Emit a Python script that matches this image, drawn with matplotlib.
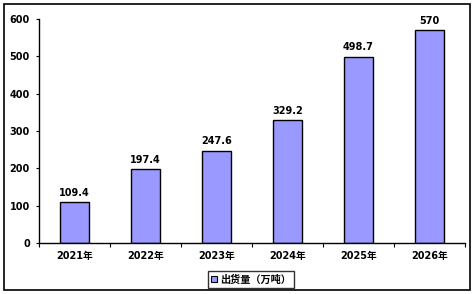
import matplotlib
matplotlib.use("Agg")
import matplotlib.pyplot as plt
from matplotlib.patches import Rectangle, Patch
import numpy as np

plt.rcParams['font.family'] = ['DejaVu Sans', 'Noto Sans CJK SC']

years = ["2021年", "2022年", "2023年", "2024年", "2025年", "2026年"]
values = [109.4, 197.4, 247.6, 329.2, 498.7, 570]
value_labels = ["109.4", "197.4", "247.6", "329.2", "498.7", "570"]
series_name = "出货量（万吨）"

fig = plt.figure(figsize=(4.75, 2.94), dpi=100)
fig.patches.append(Rectangle((4/475, 1-290/294), 466/475, 286/294, transform=fig.transFigure,
                             fill=False, edgecolor='black', linewidth=1.2))
ax = fig.add_axes([39/475, 1-243/294, 426/475, 224/294])

x = np.arange(len(years))
ax.bar(x, values, width=0.41, color='#9999FF', edgecolor='black', linewidth=1.0, label=series_name)
for xi, v, lab in zip(x, values, value_labels):
    ax.text(xi, v + 12, lab, ha='center', va='bottom', fontsize=7, fontweight='bold')

ax.set_xlim(-0.5, len(years) - 0.5)
ax.set_ylim(0, 600)
ax.set_yticks(range(0, 601, 100))
ax.set_yticklabels([str(v) for v in range(0, 601, 100)], fontsize=7, fontweight='bold')
ax.set_xticks(x)
ax.set_xticklabels(years, fontsize=7, fontweight='bold')
ax.tick_params(axis='x', length=0, pad=6)
ax.set_xticks(np.arange(-0.5, len(years), 1.0), minor=True)
ax.tick_params(axis='x', which='minor', length=3, direction='out', width=0.8)
ax.tick_params(axis='y', length=2.5, direction='out', width=0.8, pad=4)
for s in ['top', 'right']:
    ax.spines[s].set_visible(False)
ax.spines['left'].set_linewidth(1.0)
ax.spines['bottom'].set_linewidth(1.0)

leg = fig.legend(handles=[Patch(facecolor='#9999FF', edgecolor='black', linewidth=0.8, label=series_name)],
                 loc='center', bbox_to_anchor=(251/475, 1-279.5/294), fontsize=7.3,
                 frameon=True, fancybox=False, edgecolor='black', handlelength=0.6, handleheight=0.6,
                 handletextpad=0.3, borderpad=0.3, borderaxespad=0)
leg.get_frame().set_linewidth(1.0)
for t in leg.get_texts():
    t.set_fontweight('bold')

fig.savefig("out.png", dpi=100)
